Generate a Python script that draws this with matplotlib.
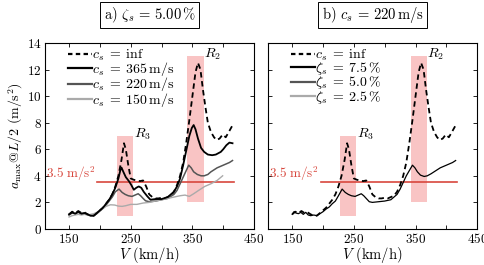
import matplotlib
matplotlib.use("Agg")
import matplotlib.pyplot as plt
from matplotlib.lines import Line2D

plt.rcParams['font.family'] = 'cmr10'
plt.rcParams['mathtext.fontset'] = 'cm'
plt.rcParams['axes.formatter.use_mathtext'] = True

# --- DATOS ---
v_inf = [150, 155, 160, 165, 170, 175, 180, 185, 190, 195, 200, 205, 210, 215, 220, 225,
         230, 235, 239, 242, 246, 250, 255, 260, 265, 270, 275, 280, 285, 290, 295, 300,
         305, 310, 315, 320, 325, 330, 335, 340, 345, 350, 355, 359, 363, 367, 371, 375,
         380, 385, 389, 394, 399, 404, 409, 415]
a_inf = [1.1, 1.3, 1.2, 1.35, 1.2, 1.25, 1.1, 1.0, 1.0, 1.2, 1.4, 1.6, 1.9, 2.2, 2.6, 3.2,
         4.0, 5.2, 6.45, 6.0, 4.8, 3.8, 3.7, 3.65, 3.6, 3.65, 3.2, 2.6, 2.4, 2.3, 2.3, 2.35,
         2.3, 2.4, 2.5, 2.8, 3.3, 4.0, 5.0, 6.5, 8.2, 10.0, 11.8, 12.5, 12.0, 10.5, 9.2, 8.0,
         7.3, 6.9, 6.7, 6.8, 7.1, 6.9, 7.3, 7.8]

v_365 = [150, 155, 160, 165, 170, 175, 180, 185, 190, 195, 200, 205, 210, 215, 220, 225,
         230, 233, 235, 238, 242, 247, 251, 255, 259, 263, 267, 271, 277, 282, 290, 300,
         310, 320, 325, 330, 335, 340, 345, 349, 352, 355, 359, 364, 369, 375, 382, 388,
         392, 396, 400, 405, 410, 415]
a_365 = [1.1, 1.25, 1.15, 1.3, 1.15, 1.2, 1.1, 1.0, 1.0, 1.2, 1.4, 1.6, 1.9, 2.2, 2.6, 3.1,
         3.8, 4.4, 4.62, 4.3, 3.9, 3.6, 3.3, 2.95, 3.1, 3.2, 3.1, 2.8, 2.45, 2.2, 2.25, 2.25,
         2.4, 2.8, 3.2, 3.8, 4.8, 5.9, 7.0, 7.6, 7.82, 7.5, 6.8, 6.1, 5.8, 5.6, 5.55, 5.6,
         5.7, 5.8, 6.0, 6.3, 6.5, 6.45]

v_220 = [150, 155, 160, 165, 170, 175, 180, 185, 190, 195, 200, 205, 210, 215, 220, 225,
         231, 236, 241, 246, 252, 257, 262, 266, 270, 274, 280, 290, 300, 310, 320, 325,
         330, 335, 340, 344, 348, 352, 358, 364, 369, 375, 380, 390, 400, 410, 415]
a_220 = [1.05, 1.2, 1.15, 1.25, 1.15, 1.2, 1.05, 1.0, 1.0, 1.15, 1.35, 1.55, 1.8, 2.1, 2.4, 2.8,
         3.0, 2.75, 2.6, 2.5, 2.45, 2.55, 2.65, 2.5, 2.3, 2.12, 2.05, 2.1, 2.2, 2.3, 2.6, 2.9,
         3.4, 3.9, 4.4, 4.8, 4.6, 4.3, 4.1, 4.0, 4.0, 4.1, 4.3, 4.6, 4.8, 5.0, 5.15]

v_150 = [150, 155, 160, 165, 170, 175, 180, 185, 190, 195, 200, 205, 210, 217, 224, 230,
         236, 242, 250, 260, 270, 280, 290, 300, 310, 320, 330, 338, 345, 352, 360, 370,
         380, 390, 399]
a_150 = [0.9, 1.0, 1.05, 1.1, 1.05, 1.1, 1.05, 1.1, 1.15, 1.25, 1.4, 1.55, 1.7, 1.82, 1.8, 1.72,
         1.7, 1.75, 1.85, 1.85, 1.95, 2.0, 2.1, 2.2, 2.3, 2.4, 2.5, 2.55, 2.45, 2.65, 2.9, 3.2,
         3.4, 3.65, 4.0]

# panel b: zeta_s = 5.0 %
v_b = [150, 153, 156, 160, 164, 168, 172, 176, 180, 185, 190, 195, 200, 205, 210, 215,
       220, 225, 231, 236, 241, 246, 252, 257, 262, 266, 270, 275, 280, 290, 300, 310,
       320, 325, 330, 335, 340, 345, 349, 353, 358, 364, 369, 375, 380, 390, 400, 410, 415]
a_b = [1.1, 1.3, 1.2, 1.15, 1.25, 1.1, 1.25, 1.05, 1.0, 1.05, 1.0, 1.15, 1.3, 1.5, 1.65, 1.9,
       2.1, 2.5, 3.0, 2.75, 2.6, 2.5, 2.45, 2.55, 2.65, 2.5, 2.3, 2.05, 2.0, 2.05, 2.1, 2.2,
       2.6, 3.0, 3.5, 4.0, 4.4, 4.8, 4.6, 4.3, 4.05, 3.95, 4.0, 4.15, 4.3, 4.6, 4.8, 5.0, 5.15]

bandas = [(227, 254, 1.0, 7.0), (342, 369, 2.0, 13.0)]
limite = 3.5

ROJO = '#d8473d'
ROSA = '#f9c4c4'


def preparar_eje(ax):
    for v0, v1, y0, y1 in bandas:
        ax.fill_between([v0, v1], y0, y1, color=ROSA, lw=0, zorder=1)
    ax.plot([196, 418], [limite, limite], color=ROJO, lw=1.2, zorder=2)
    ax.text(193, limite - 0.05, r'$3.5\;\mathrm{m/s^2}$', color=ROJO, fontsize=9.5,
            ha='right', va='bottom')
    ax.text(255, 6.55, r'$R_3$', fontsize=10, ha='left', va='bottom')
    ax.text(369, 12.55, r'$R_2$', fontsize=10, ha='left', va='bottom')
    ax.set_xlim(111, 450)
    ax.set_ylim(0, 14)
    ax.set_xticks([150, 250, 350, 450])
    ax.set_xticks([200, 300, 400], minor=True)
    ax.set_yticks(range(0, 15, 2))
    ax.tick_params(which='both', direction='in', top=True, right=True,
                   length=3, width=0.6, labelsize=9.5, pad=2.5)
    for s in ax.spines.values():
        s.set_linewidth(0.8)
    ax.set_xlabel(r'$V$ (km/h)', fontsize=10.5, labelpad=-1)


def leyenda(ax, handles, labels):
    ax.legend(handles, labels, loc='upper left', bbox_to_anchor=(0.11, 0.975),
              frameon=False, fontsize=10, handlelength=1.7, handletextpad=0.05,
              labelspacing=-0.2, borderpad=0, borderaxespad=0)


fig = plt.figure(figsize=(4.84, 2.65), dpi=100)
ax1 = fig.add_axes([0.093, 0.136, 0.432, 0.702])
ax2 = fig.add_axes([0.554, 0.136, 0.432, 0.702])

# --- PANEL A ---
preparar_eje(ax1)
ax1.plot(v_inf, a_inf, color='black', lw=1.3, ls=(0, (3, 2)), zorder=3)
ax1.plot(v_365, a_365, color='black', lw=1.3, zorder=4)
ax1.plot(v_220, a_220, color='#555555', lw=1.1, zorder=3)
ax1.plot(v_150, a_150, color='#aaaaaa', lw=1.0, zorder=3)
ax1.set_ylabel(r'$a_{\max}@L/2$ (m/s$^2$)', fontsize=10, labelpad=1)
h1 = [Line2D([], [], color='black', lw=1.6, ls=(0, (2, 1.5))),
      Line2D([], [], color='black', lw=1.6),
      Line2D([], [], color='#555555', lw=1.6),
      Line2D([], [], color='#aaaaaa', lw=1.6)]
l1 = [r'$c_s\;=\;\mathrm{inf}$', r'$c_s\;=\;365\,\mathrm{m/s}$',
      r'$c_s\;=\;220\,\mathrm{m/s}$', r'$c_s\;=\;150\,\mathrm{m/s}$']
leyenda(ax1, h1, l1)
ax1.text(0.5, 1.15, r'a) $\zeta_s\,=\,5.00\,\%$', transform=ax1.transAxes,
         ha='center', va='center', fontsize=10.5,
         bbox=dict(boxstyle='square,pad=0.22', fc='white', ec='black', lw=0.7))

# --- PANEL B ---
preparar_eje(ax2)
ax2.plot(v_inf, a_inf, color='black', lw=1.3, ls=(0, (3, 2)), zorder=3)
ax2.plot(v_b, a_b, color='black', lw=0.9, zorder=4)
ax2.set_yticklabels([])
h2 = [Line2D([], [], color='black', lw=1.6, ls=(0, (2, 1.5))),
      Line2D([], [], color='black', lw=1.6),
      Line2D([], [], color='#555555', lw=1.6),
      Line2D([], [], color='#aaaaaa', lw=1.6)]
l2 = [r'$c_s\;=\;\mathrm{inf}$', r'$\zeta_s\;=\;7.5\,\%$',
      r'$\zeta_s\;=\;5.0\,\%$', r'$\zeta_s\;=\;2.5\,\%$']
leyenda(ax2, h2, l2)
ax2.text(0.5, 1.15, r'b) $c_s\,=\,220\,\mathrm{m/s}$', transform=ax2.transAxes,
         ha='center', va='center', fontsize=10.5,
         bbox=dict(boxstyle='square,pad=0.22', fc='white', ec='black', lw=0.7))

fig.savefig('out.png', dpi=100)
